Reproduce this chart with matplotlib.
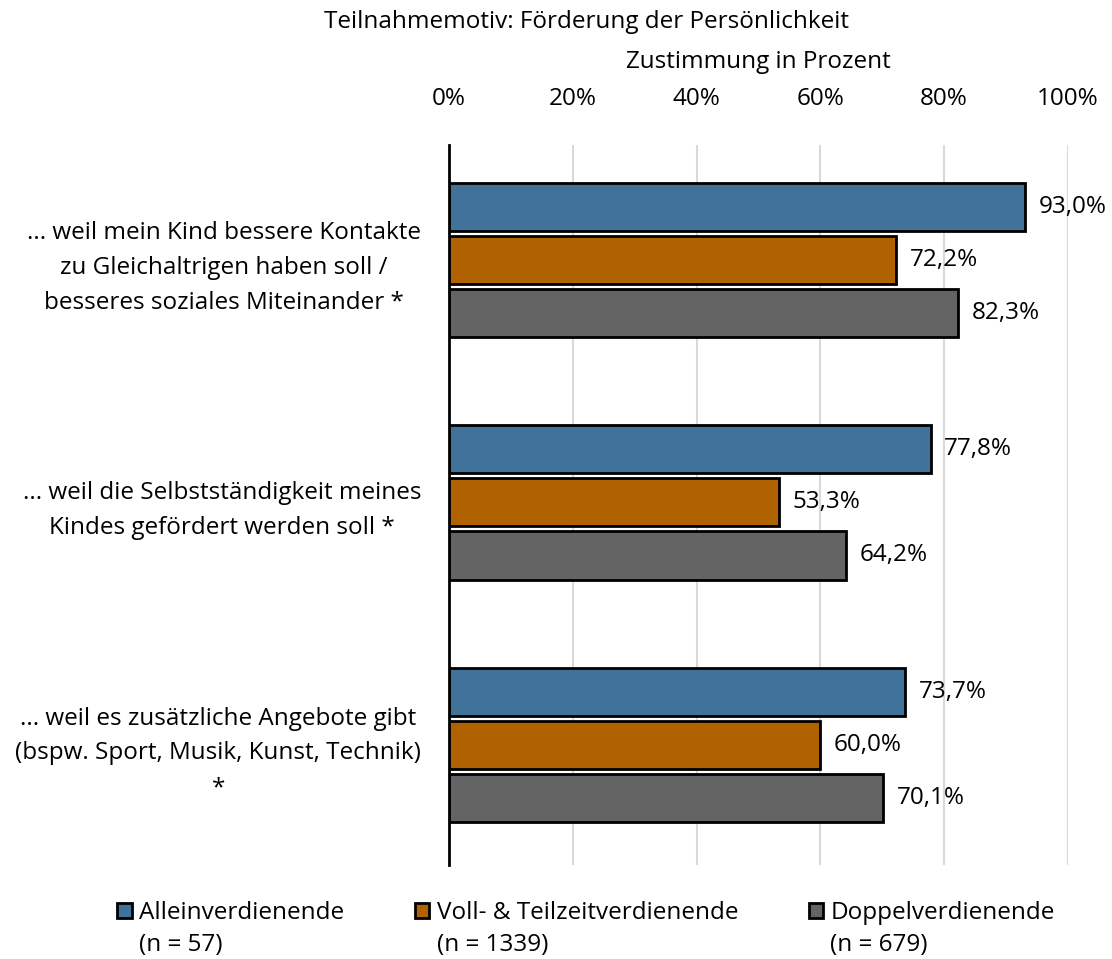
import numpy as np
import matplotlib
matplotlib.use("Agg")
import matplotlib.pyplot as plt
from matplotlib.patches import Patch

plt.rcParams['font.family'] = ['Open Sans', 'DejaVu Sans']

title = "Teilnahmemotiv: Förderung der Persönlichkeit"
xlabel = "Zustimmung in Prozent"
categories = [
    "... weil mein Kind bessere Kontakte\nzu Gleichaltrigen haben soll /\nbesseres soziales Miteinander *",
    "... weil die Selbstständigkeit meines\nKindes gefördert werden soll *",
    "... weil es zusätzliche Angebote gibt\n(bspw. Sport, Musik, Kunst, Technik)\n*",
]
series_names = ["Alleinverdienende", "Voll- & Teilzeitverdienende", "Doppelverdienende"]
series_n = ["(n = 57)", "(n = 1339)", "(n = 679)"]
allein = [93.0, 77.8, 73.7]
voll_teil = [72.2, 53.3, 60.0]
doppel = [82.3, 64.2, 70.1]
colors = ["#41739A", "#B06200", "#646464"]
xticks = [0, 20, 40, 60, 80, 100]

fs = 17.5
fig = plt.figure(figsize=(11.12, 9.59), dpi=100)
ax = fig.add_axes([0.4038, 0.098, 0.5566, 0.751])

y = np.arange(len(categories))
h = 0.198
step = 0.219
for k, (vals, col) in enumerate(zip([allein, voll_teil, doppel], colors)):
    pos = y + (k - 1) * step
    ax.barh(pos, vals, height=h, color=col, edgecolor="black", linewidth=2, zorder=3)
    for p, v in zip(pos, vals):
        ax.text(v + 2.2, p, f"{v:.1f}%".replace(".", ","), va="center", ha="left",
                fontsize=fs, color="black")

ax.set_xlim(0, 100)
ax.set_ylim(2.495, -0.474)
ax.set_xticks(xticks)
ax.set_xticklabels([f"{t}%" for t in xticks], fontsize=fs)
ax.xaxis.tick_top()
ax.tick_params(axis="x", length=0, pad=24)
ax.set_yticks(y)
ax.set_yticklabels(categories, fontsize=fs, linespacing=1.6, multialignment="center")
ax.tick_params(axis="y", length=0, pad=20)
ax.grid(axis="x", color="#D9D9D9", linewidth=1.5, zorder=0)
for s in ["top", "right", "bottom"]:
    ax.spines[s].set_visible(False)
ax.spines["left"].set_linewidth(2)
ax.spines["left"].set_zorder(4)

fig.text(0.682, 0.935, xlabel, ha="center", va="center", fontsize=fs)
fig.text(0.527, 0.977, title, ha="center", va="center", fontsize=fs)

# legend: first line with the handle, sample size on a second line below
handles = [Patch(facecolor=c, edgecolor="black", linewidth=2) for c in colors]
leg = fig.legend(handles, series_names, loc="center", bbox_to_anchor=(0.527, 0.048), ncol=3,
                 frameon=False, fontsize=fs, handlelength=0.6, handleheight=0.6,
                 handletextpad=0.3, columnspacing=2.9)
fig.canvas.draw()
inv = fig.transFigure.inverted()
for t, n in zip(leg.get_texts(), series_n):
    bb = t.get_window_extent()
    x0, _ = inv.transform((bb.x0, bb.y0))
    fig.text(x0, 0.0146, n, ha="left", va="center", fontsize=fs)

fig.savefig("out.png", dpi=100)
